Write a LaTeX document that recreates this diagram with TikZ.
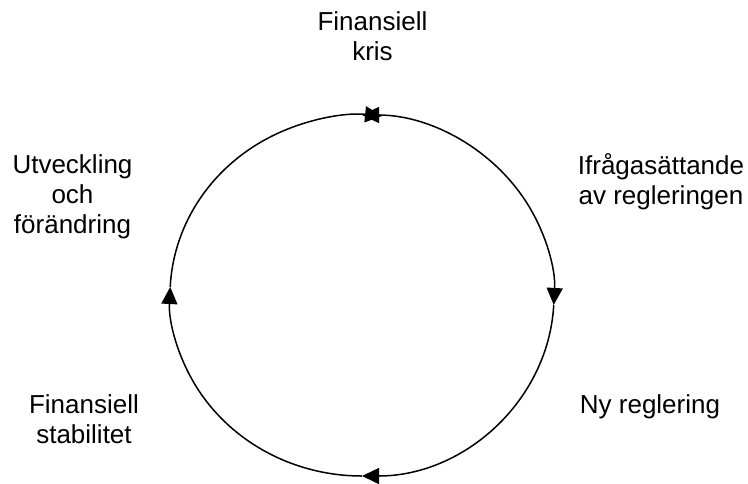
\documentclass[tikz,border=0pt]{standalone}
\usepackage{fontspec}
\setmainfont{Liberation Sans}
\usetikzlibrary{arrows.meta, positioning, calc}
\tikzstyle{phase}      = [align=center, inner sep=0pt, anchor=base, font=\fontsize{26}{30}\selectfont]
\tikzstyle{cyclearrow} = [line width=1.5pt, -{Triangle[length=17pt, width=16pt]}]
\tikzstyle{cycleboth}  = [line width=1.5pt, {Triangle[length=17pt, width=16pt]}-{Triangle[length=17pt, width=16pt]}]

\begin{document}
\begin{tikzpicture}[x=1pt, y=-1pt]
\useasboundingbox (0,0) rectangle (748,483);

% phases of the cycle (anchored at the baseline of the last line)
\node[phase] (kris) at (372.5,60)  {Finansiell\\kris};
\node[phase] (ifr)  at (661,204)   {Ifrågasättande\\av regleringen};
\node[phase] (ny)   at (650,413)   {Ny reglering};
\node[phase] (stab) at (84,443)    {Finansiell\\stabilitet};
\node[phase] (utv)  at (72.5,233)  {Utveckling\\och\\förändring};

% points on the ellipse
\coordinate (C) at (362,295.5);
\coordinate (P1) at ($(C)+(90:192 and 180.5)$);
\coordinate (P2) at ($(C)+(182.7:192 and 180.5)$);
\coordinate (P3) at ($(C)+(270:192 and 180.5)$);
\coordinate (P4) at ($(C)+(3:192 and 180.5)$);

\draw[cyclearrow] (P1) arc[start angle=90, end angle=182.7, x radius=192, y radius=180.5];
\draw[cyclearrow] (P2) arc[start angle=182.7, end angle=276, x radius=192, y radius=180.5];
\draw[cycleboth]  (P3) arc[start angle=270, end angle=363, x radius=192, y radius=180.5];
\draw[cyclearrow] (P4) arc[start angle=3, end angle=90, x radius=192, y radius=180.5];

\end{tikzpicture}
\end{document}
